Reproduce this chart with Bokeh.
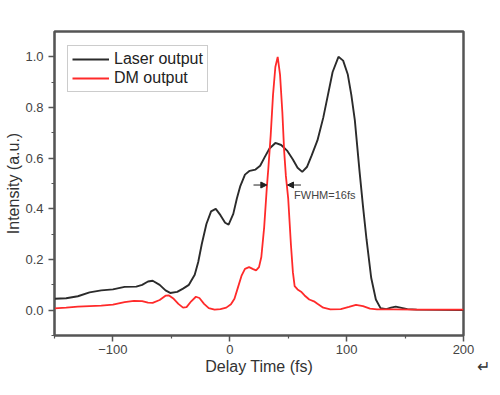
from bokeh.plotting import figure
from bokeh.models import FixedTicker, Arrow, NormalHead, Label
from bokeh.embed import file_html
from bokeh.resources import INLINE

# ---- data ----
laser_t = [-150, -140, -130, -120, -110, -100, -90, -80, -75, -70, -66, -60, -55, -51, -45, -40, -35,
           -30, -27, -24, -20, -16, -12, -8, -4, -1, 3, 6, 9, 13, 17, 22, 26, 30, 34, 39, 44, 49,
           54, 58, 62, 66, 70, 75, 80, 84, 88, 93, 97, 101, 104, 107, 111, 114, 117, 121, 125,
           129, 134, 138, 142, 146, 152, 160, 180, 200]
laser_i = [0.045, 0.047, 0.055, 0.070, 0.078, 0.082, 0.092, 0.093, 0.100, 0.113, 0.116, 0.100, 0.078,
           0.068, 0.072, 0.085, 0.100, 0.140, 0.190, 0.260, 0.340, 0.390, 0.400, 0.375, 0.345,
           0.338, 0.380, 0.440, 0.490, 0.535, 0.550, 0.555, 0.570, 0.605, 0.638, 0.660, 0.652,
           0.630, 0.595, 0.562, 0.546, 0.565, 0.610, 0.670, 0.760, 0.850, 0.940, 1.000, 0.985,
           0.930, 0.850, 0.750, 0.550, 0.410, 0.280, 0.128, 0.042, 0.008, 0.004, 0.010, 0.014,
           0.010, 0.004, 0.002, 0.001, 0.000]

dm_t = [-150, -140, -130, -120, -110, -100, -90, -82, -75, -70, -66, -60, -55, -52, -48, -44, -40,
        -37, -33, -29, -26, -22, -18, -13, -8, -3, 1, 4, 7, 10, 13, 16.5, 20, 22.5, 25, 27, 29.4,
        31.7, 33, 35, 37, 39, 41, 43, 45, 46.5, 48, 50, 52.3, 54, 55.5, 58, 61, 64, 68, 72, 75,
        80, 86, 95, 102, 108, 114, 120, 126, 140, 160, 180, 200]
dm_i = [0.007, 0.010, 0.014, 0.016, 0.018, 0.022, 0.032, 0.037, 0.036, 0.030, 0.029, 0.040, 0.057,
        0.058, 0.045, 0.025, 0.010, 0.012, 0.035, 0.053, 0.048, 0.025, 0.008, 0.002, 0.004, 0.010,
        0.023, 0.045, 0.090, 0.135, 0.163, 0.170, 0.162, 0.157, 0.170, 0.210, 0.326, 0.484,
        0.560, 0.690, 0.850, 0.960, 1.000, 0.930, 0.780, 0.630, 0.530, 0.440, 0.260, 0.150,
        0.095, 0.082, 0.073, 0.058, 0.042, 0.035, 0.025, 0.010, 0.003, 0.004, 0.013, 0.021,
        0.016, 0.006, 0.003, 0.003, 0.002, 0.002, 0.002]

x_ticks = [-100, 0, 100, 200]
x_minor = [-150, -50, 50, 150]
y_ticks = [0.0, 0.2, 0.4, 0.6, 0.8, 1.0]
y_tick_labels = ["0.0", "0.2", "0.4", "0.6", "0.8", "1.0"]
y_minor = [-0.1, 0.1, 0.3, 0.5, 0.7, 0.9]

x_title = "Delay Time (fs)"
y_title = "Intensity (a.u.)"
para_mark = "\u21b5"

fwhm_left = (20.3, 31.7)
fwhm_right = (60.9, 49.4)
fwhm_level = 0.494
fwhm_text = "FWHM=16fs"
fwhm_text_pos = (55, 0.455)

FONT = "Liberation Sans"
AX = "#555555"
NB = "\u00a0"

p = figure(width=492, height=379, x_range=(-150, 200), y_range=(-0.1, 1.1),
           output_backend="svg", toolbar_location=None,
           min_border_left=54, min_border_right=29, min_border_top=31, min_border_bottom=44)

p.line(laser_t, laser_i, line_color="#2b2b2b", line_width=1.9, legend_label="Laser output")
p.line(dm_t, dm_i, line_color="#ff2a2a", line_width=1.8, legend_label="DM output")

p.xgrid.visible = False
p.ygrid.visible = False
p.outline_line_color = AX
p.outline_line_alpha = 1.0
p.outline_line_width = 2.5

p.xaxis.ticker = FixedTicker(ticks=x_ticks, minor_ticks=x_minor)
p.yaxis.ticker = FixedTicker(ticks=y_ticks, minor_ticks=y_minor)
p.yaxis.major_label_overrides = {t: l for t, l in zip(y_ticks, y_tick_labels)}

for ax in (p.xaxis[0], p.yaxis[0]):
    ax.axis_line_color = AX
    ax.axis_line_width = 1.2
    ax.major_tick_line_color = AX
    ax.minor_tick_line_color = AX
    ax.major_tick_line_width = 1.5
    ax.minor_tick_line_width = 1.2
    ax.major_tick_out = 6
    ax.major_tick_in = 0
    ax.minor_tick_out = 3
    ax.minor_tick_in = 0
    ax.major_label_text_font = FONT
    ax.major_label_text_font_size = "13px"
    ax.major_label_text_color = "#444444"
    ax.axis_label_text_font = FONT
    ax.axis_label_text_font_size = "16px"
    ax.axis_label_text_font_style = "normal"
    ax.axis_label_text_color = "#333333"

p.xaxis.major_label_standoff = 3
p.xaxis.axis_label_standoff = 1
p.yaxis.major_label_standoff = 5
p.yaxis.axis_label_standoff = 0

# x title centred under the frame, with the trailing paragraph mark at the far right
p.xaxis.axis_label = NB * 40 + x_title + NB * 37 + para_mark
p.yaxis.axis_label = y_title

lg = p.legend[0]
lg.location = (13, 243)
lg.border_line_color = "#999999"
lg.border_line_width = 1
lg.padding = 4
lg.spacing = 1
lg.label_height = 16
lg.glyph_height = 16
lg.glyph_width = 37
lg.label_standoff = 5
lg.label_text_font = FONT
lg.label_text_font_size = "16px"
lg.label_text_color = "#222222"
lg.background_fill_alpha = 1.0

p.add_layout(Arrow(end=NormalHead(size=6, fill_color="#222222", line_color="#222222"),
                   x_start=fwhm_left[0], y_start=fwhm_level, x_end=fwhm_left[1], y_end=fwhm_level,
                   line_color="#222222", line_width=1))
p.add_layout(Arrow(end=NormalHead(size=6, fill_color="#222222", line_color="#222222"),
                   x_start=fwhm_right[0], y_start=fwhm_level, x_end=fwhm_right[1], y_end=fwhm_level,
                   line_color="#222222", line_width=1))
p.add_layout(Label(x=fwhm_text_pos[0], y=fwhm_text_pos[1], text=fwhm_text, text_font=FONT,
                   text_font_size="11px", text_baseline="middle", text_color="#444444"))

open("out.html", "w").write(file_html(p, INLINE))
